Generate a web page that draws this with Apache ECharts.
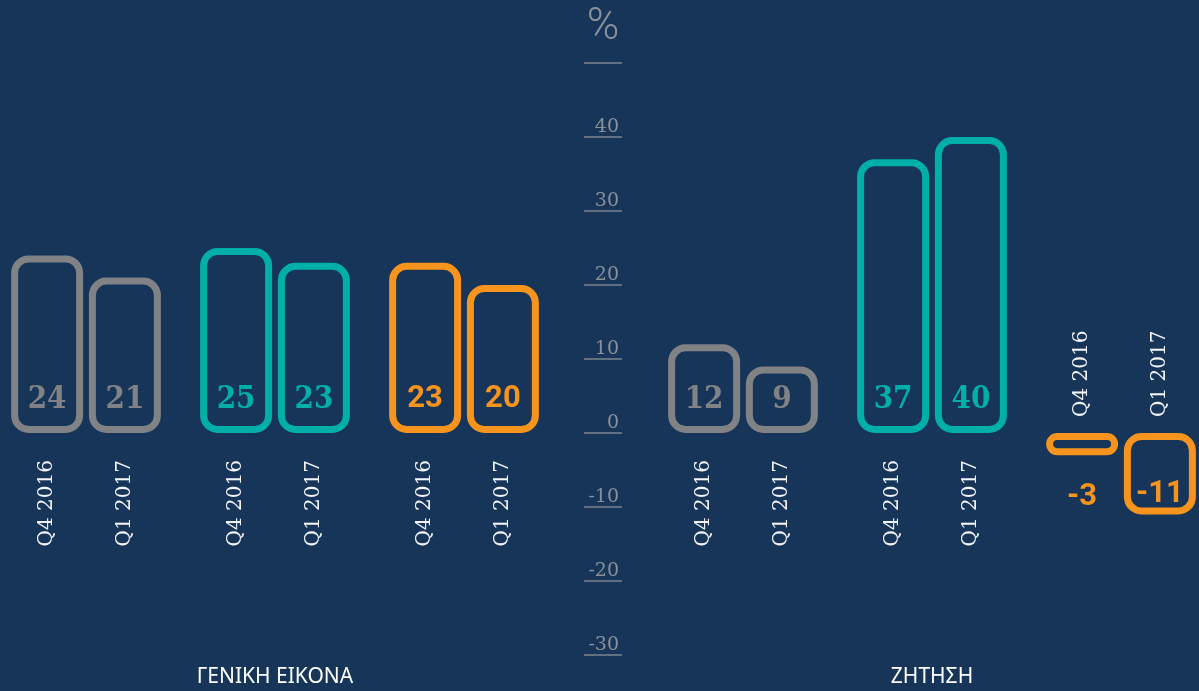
<!DOCTYPE html>
<html>
<head>
<meta charset="utf-8">
<script src="https://cdn.jsdelivr.net/npm/echarts@6/dist/echarts.min.js"></script>
<style>
  html, body { margin: 0; padding: 0; background: #163559; overflow: hidden; }
  #chart { width: 1199px; height: 691px; }
</style>
</head>
<body>
<div id="chart"></div>
<script>
  // data
  var groups = ['a', 'b', 'c'];
  var periods = ['Q4 2016', 'Q1 2017'];
  var leftQ4 = [24, 25, 23];
  var leftQ1 = [21, 23, 20];
  var rightQ4 = [12, 37, -3];
  var rightQ1 = [9, 40, -11];
  var panelNames = ['ΓΕΝΙΚΗ ΕΙΚΟΝΑ', 'ΖΗΤΗΣΗ'];
  var yMin = -30, yMax = 50, yStep = 10;
  var unitLabel = '%';

  var colors = ['#808285', '#00b0a8', '#f7941d'];
  var slab = '"DejaVu Serif Condensed", "DejaVu Serif", serif';
  var serif = '"DejaVu Serif", serif';
  var sans = 'Roboto, "Liberation Sans", sans-serif';

  var myChart = echarts.init(document.getElementById('chart'));

  // zero height bars that only carry the rotated period text
  function periodSeries(grid, values, stack, name) {
    return {
      type: 'bar', xAxisIndex: grid, yAxisIndex: grid, stack: stack,
      barWidth: 72, barGap: '8%', silent: true,
      itemStyle: { color: 'rgba(0,0,0,0)' },
      data: values.map(function (v) {
        var neg = v < 0;
        return {
          value: 0,
          label: {
            show: true, formatter: name, rotate: 90,
            position: neg ? 'top' : 'bottom',
            distance: neg ? 16 : 27,
            align: neg ? 'left' : 'right',
            verticalAlign: 'middle',
            color: '#f2f4f7', fontSize: 20, fontFamily: serif
          }
        };
      })
    };
  }

  function valueSeries(grid, values, stack) {
    return {
      type: 'bar', xAxisIndex: grid, yAxisIndex: grid, stack: stack,
      barWidth: 72, barGap: '8%', silent: true,
      data: values.map(function (v, i) {
        var pos = 'insideBottom', dist = 18;
        if (v < 0 && v > -5) { pos = 'bottom'; dist = 27; }
        else if (v < 0) { dist = 5; }
        return {
          value: v,
          itemStyle: {
            color: 'rgba(0,0,0,0)', borderColor: colors[i],
            borderWidth: 7, borderRadius: 14
          },
          label: {
            show: true, position: pos, distance: dist,
            color: colors[i], fontWeight: 'bold',
            fontSize: i === 2 ? 31 : 31,
            fontFamily: i === 2 ? sans : slab
          }
        };
      })
    };
  }

  function xAx(grid, name) {
    return {
      type: 'category', gridIndex: grid, data: groups,
      position: 'bottom',
      axisLine: { show: false, onZero: false }, axisTick: { show: false },
      axisLabel: { show: false },
      name: name, nameLocation: 'middle', nameGap: 12,
      nameTextStyle: { color: '#ffffff', fontSize: 21, fontFamily: '"Noto Sans", sans-serif' }
    };
  }

  function yAx(grid) {
    return {
      type: 'value', gridIndex: grid, min: yMin, max: yMax, interval: yStep,
      show: false
    };
  }

  var option = {
    backgroundColor: '#163559',
    animation: false,
    grid: [
      { left: -8.5, width: 567, top: 63, bottom: 36, outerBoundsMode: 'none' },
      { left: 648.5, width: 567, top: 63, bottom: 36, outerBoundsMode: 'none' },
      { left: 584, width: 38, top: 63, bottom: 36, outerBoundsMode: 'none' }
    ],
    xAxis: [
      xAx(0, panelNames[0]),
      xAx(1, panelNames[1]),
      { type: 'value', gridIndex: 2, show: false }
    ],
    yAxis: [
      yAx(0),
      yAx(1),
      {
        type: 'value', gridIndex: 2, position: 'right',
        min: yMin, max: yMax, interval: yStep,
        axisLine: { show: false }, axisTick: { show: false },
        splitLine: { show: true, lineStyle: { color: '#7d8590', width: 1.5 } },
        axisLabel: {
          inside: true, margin: 3, verticalAlign: 'bottom',
          color: '#8b919a', fontSize: 19, fontFamily: serif,
          showMaxLabel: false
        }
      }
    ],
    graphic: [{
      type: 'text', x: 603, y: 50,
      style: {
        text: unitLabel, align: 'center', verticalAlign: 'bottom',
        fill: '#8b919a', fontSize: 44, fontWeight: 300, fontFamily: sans
      }
    }],
    series: [
      periodSeries(0, leftQ4, 'q4', periods[0]),
      valueSeries(0, leftQ4, 'q4'),
      periodSeries(0, leftQ1, 'q1', periods[1]),
      valueSeries(0, leftQ1, 'q1'),
      periodSeries(1, rightQ4, 'q4r', periods[0]),
      valueSeries(1, rightQ4, 'q4r'),
      periodSeries(1, rightQ1, 'q1r', periods[1]),
      valueSeries(1, rightQ1, 'q1r')
    ]
  };

  myChart.setOption(option);
  window.addEventListener('resize', function () {
    myChart.resize();
  });
</script>
</body>
</html>
